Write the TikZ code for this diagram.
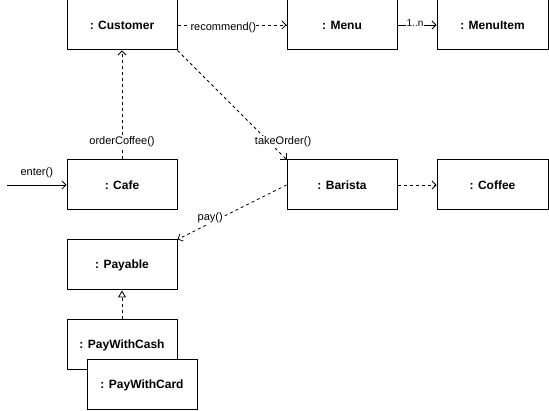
\documentclass[tikz,border=0pt]{standalone}
\usepackage{fontspec}
\setmainfont{Liberation Sans}
\usetikzlibrary{arrows.meta}
\begin{document}
\begin{tikzpicture}[x=1pt,y=-1pt,
  obj/.style={draw,line width=1pt,fill=white,minimum width=110pt,minimum height=50pt,inner sep=0pt,font=\fontsize{12}{14}\selectfont\bfseries},
  lbl/.style={fill=white,inner sep=0.5pt,font=\fontsize{11}{13}\selectfont},
  dsh/.style={line width=0.8pt,dash pattern=on 3pt off 3pt},
  sol/.style={line width=0.8pt},
  opn/.style={-{Straight Barb[length=4pt,width=8pt,line width=0.8pt]}},
  tri/.style={-{Triangle[open,length=7pt,width=8pt,line width=0.8pt]}}]
\useasboundingbox (0,0) rectangle (549,411);
\node[obj] (cust) at (122,25) {: Customer};
\node[obj] (menu) at (342,25) {: Menu};
\node[obj,minimum width=111pt] (item) at (492.5,25) {: MenuItem};
\node[obj] (cafe) at (122,185) {: Cafe};
\node[obj] (bar) at (342,185) {: Barista};
\node[obj,minimum width=111pt] (cof) at (492.5,185) {: Coffee};
\node[obj] (pay) at (122,265) {: Payable};
\node[obj] (cash) at (122,345) {: PayWithCash};
\node[obj] (card) at (142,385) {: PayWithCard};
\coordinate (start) at (7,185);
\draw[dsh,opn] (cust.east) -- node[lbl,pos=0.42,yshift=-2.5pt]{recommend()} (menu.west);
\draw[sol,opn] (menu.east) -- node[lbl,pos=0.45,yshift=2pt,font=\fontsize{10}{12}\selectfont]{1..n} (item.west);
\draw[dsh,opn] (cafe.north) -- node[lbl,pos=0.16]{orderCoffee()} (cust.south);
\draw[dsh,opn] (cust.south east) -- node[lbl,pos=0.84,xshift=14pt]{takeOrder()} (bar.north west);
\draw[sol,opn] (start) -- node[pos=0.5,above=7pt,inner sep=0pt,font=\fontsize{11}{13}\selectfont]{enter()} (cafe.west);
\draw[dsh,opn] (bar.east) -- (cof.west);
\draw[dsh,opn] (bar.west) -- node[lbl,pos=0.7,yshift=5pt]{pay()} (pay.north east);
\draw[dsh,tri] (cash.north) -- (pay.south);
\end{tikzpicture}
\end{document}
